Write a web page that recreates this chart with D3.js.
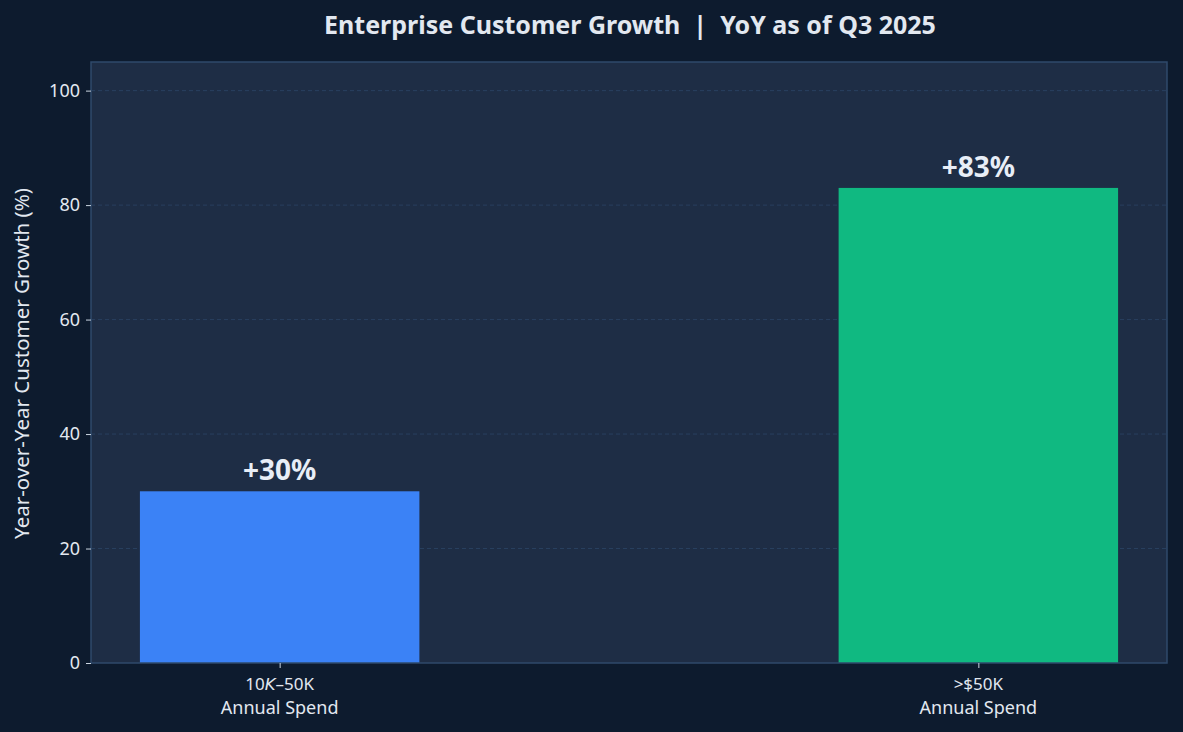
<!DOCTYPE html>
<html>
<head>
<meta charset="utf-8">
<script src="https://cdn.jsdelivr.net/npm/d3@7"></script>
<style>
  body { margin: 0; background: #0d1b2e; }
  text { font-family: "Noto Sans", "Open Sans", sans-serif; }
</style>
</head>
<body>
<svg id="chart"></svg>
<script>
// enterprise customer growth bars

const categories = ["10K–50K", ">$50K"];
const subLabels = ["Annual Spend", "Annual Spend"];
const growth = [30, 83];
const barColors = ["#3b82f6", "#10b981"];
const yTicks = [0, 20, 40, 60, 80, 100];

const width = 1183, height = 732;
const margin = { top: 62, right: 16, bottom: 69, left: 91 };
const barWidth = 0.4;

const svg = d3.select("#chart")
    .attr("width", width)
    .attr("height", height);

svg.append("rect")
    .attr("width", width)
    .attr("height", height)
    .attr("fill", "#0d1b2e");

const x = d3.scaleLinear()
    .domain([-0.27, 1.27])
    .range([margin.left, width - margin.right]);

const y = d3.scaleLinear()
    .domain([0, 105])
    .range([height - margin.bottom, margin.top]);

// plot background
svg.append("rect")
    .attr("x", margin.left)
    .attr("y", margin.top)
    .attr("width", width - margin.left - margin.right)
    .attr("height", height - margin.top - margin.bottom)
    .attr("fill", "#1e2d45");

// grid
svg.append("g")
    .selectAll("line")
    .data(yTicks.filter(d => d > 0))
    .enter()
    .append("line")
    .attr("x1", margin.left)
    .attr("x2", width - margin.right)
    .attr("y1", d => y(d))
    .attr("y2", d => y(d))
    .attr("stroke", "#2c4466")
    .attr("stroke-width", 0.8)
    .attr("stroke-dasharray", "4,3");

// bars
svg.append("g")
    .selectAll("rect")
    .data(growth)
    .enter()
    .append("rect")
    .attr("x", (_, i) => x(i - barWidth / 2))
    .attr("y", d => y(d))
    .attr("width", x(barWidth) - x(0))
    .attr("height", d => y(0) - y(d))
    .attr("fill", (_, i) => barColors[i]);

// value labels
svg.append("g")
    .selectAll("text")
    .data(growth)
    .enter()
    .append("text")
    .attr("x", (_, i) => x(i))
    .attr("y", d => y(d) - 11)
    .attr("text-anchor", "middle")
    .attr("fill", "#e8eef7")
    .attr("font-size", 28)
    .attr("font-weight", "bold")
    .text(d => "+" + d + "%");

// frame
svg.append("rect")
    .attr("x", margin.left)
    .attr("y", margin.top)
    .attr("width", width - margin.left - margin.right)
    .attr("height", height - margin.top - margin.bottom)
    .attr("fill", "none")
    .attr("stroke", "#2f4a6b")
    .attr("stroke-width", 1.5);

// y axis
const yAxis = svg.append("g")
    .attr("transform", `translate(${margin.left},0)`)
    .call(d3.axisLeft(y).tickValues(yTicks).tickSize(5).tickPadding(6));
yAxis.select(".domain").remove();
yAxis.selectAll("line").attr("stroke", "#cbd5e1");
yAxis.selectAll("text")
    .attr("fill", "#e2e8f0")
    .attr("font-size", 18)
    .attr("font-family", "Noto Sans");

// x axis
const xAxis = svg.append("g")
    .attr("transform", `translate(0,${height - margin.bottom})`)
    .call(d3.axisBottom(x).tickValues([0, 1]).tickSize(5).tickFormat(""));
xAxis.select(".domain").remove();
xAxis.selectAll("line").attr("stroke", "#cbd5e1");

// two-line category labels, as separate texts
const xLabelGroups = svg.append("g")
    .selectAll("g")
    .data(categories)
    .enter()
    .append("g")
    .attr("transform", (_, i) => `translate(${x(i)},0)`);

xLabelGroups.append("text")
    .attr("y", height - margin.bottom + 27)
    .attr("text-anchor", "middle")
    .attr("fill", "#e2e8f0")
    .attr("font-size", 17)
    .each(function (d, i) {
        const t = d3.select(this);
        if (i === 0) {
            // mathtext-style italic K
            t.append("tspan").text("10");
            t.append("tspan").attr("font-style", "italic").attr("font-family", "DejaVu Sans").attr("font-size", 16.5).text("K");
            t.append("tspan").text("–50K");
        } else {
            t.text(d);
        }
    });

xLabelGroups.append("text")
    .attr("y", height - margin.bottom + 51)
    .attr("text-anchor", "middle")
    .attr("fill", "#e2e8f0")
    .attr("font-size", 18)
    .text((_, i) => subLabels[i]);

// y label
svg.append("text")
    .attr("transform", `translate(29,${(margin.top + height - margin.bottom) / 2 + 1}) rotate(-90)`)
    .attr("text-anchor", "middle")
    .attr("fill", "#e2e8f0")
    .attr("font-size", 20.5)
    .text("Year-over-Year Customer Growth (%)");

// title
svg.append("text")
    .attr("x", 630)
    .attr("y", 34)
    .attr("text-anchor", "middle")
    .attr("fill", "#e2e8f0")
    .attr("font-size", 25)
    .attr("font-weight", "bold")
    .style("white-space", "pre")
    .text("Enterprise Customer Growth  |  YoY as of Q3 2025");
</script>
</body>
</html>
